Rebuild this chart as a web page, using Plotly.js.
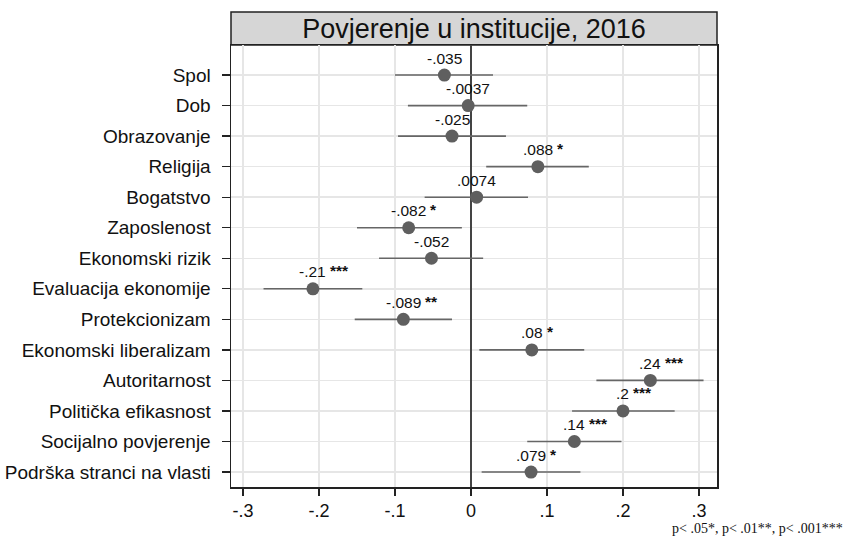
<!DOCTYPE html>
<html>
<head>
<meta charset="utf-8">
<script src="https://cdn.plot.ly/plotly-3.0.1.min.js"></script>
<style>html,body{margin:0;padding:0;background:#fff;}#chart{width:849px;height:551px;}</style>
</head>
<body>
<div id="chart"></div>
<script>
const categories = ["Spol","Dob","Obrazovanje","Religija","Bogatstvo","Zaposlenost","Ekonomski rizik","Evaluacija ekonomije","Protekcionizam","Ekonomski liberalizam","Autoritarnost","Politička efikasnost","Socijalno povjerenje","Podrška stranci na vlasti"];
const estimates = [-0.035,-0.0037,-0.025,0.088,0.0074,-0.082,-0.052,-0.208,-0.089,0.080,0.236,0.200,0.136,0.079];
const ciLow  = [-0.100,-0.083,-0.096,0.020,-0.061,-0.150,-0.121,-0.273,-0.153,0.011,0.165,0.133,0.074,0.014];
const ciHigh = [0.029,0.074,0.046,0.155,0.075,-0.012,0.016,-0.143,-0.025,0.149,0.306,0.268,0.198,0.144];
const numLabels = ["-.035","-.0037","-.025",".088",".0074","-.082","-.052","-.21","-.089",".08",".24",".2",".14",".079"];
const stars = ["","","","*","","*","","***","**","*","***","***","***","*"];
const xTickVals = [-0.3,-0.2,-0.1,0,0.1,0.2,0.3];
const xTickText = ["-.3","-.2","-.1","0",".1",".2",".3"];

const idx = categories.map((c,i)=>i);
const errPlus = estimates.map((v,i)=>ciHigh[i]-v);
const errMinus = estimates.map((v,i)=>v-ciLow[i]);

const trace = {
  type:'scatter', mode:'markers', x:estimates, y:idx,
  marker:{size:13,color:'#5f5f5f'},
  error_x:{type:'data',symmetric:false,array:errPlus,arrayminus:errMinus,color:'#666666',thickness:1.6,width:0},
  hoverinfo:'skip', showlegend:false, cliponaxis:false
};

const FONT = 'Liberation Sans, Arial, sans-serif';
const LBL = 15.5;
// approximate Arial glyph widths (em) to place stars after centered numbers
function textWidth(s, size){
  let w=0; for(const ch of s){ w += (ch==='.')?0.278:(ch==='-')?0.333:0.556; } return w*size;
}
const annotations = [];
estimates.forEach((v,i)=>{
  annotations.push({x:v,y:i,xref:'x',yref:'y',text:numLabels[i],showarrow:false,xanchor:'center',yanchor:'middle',yshift:17,font:{family:FONT,size:LBL,color:'#111'}});
  if(stars[i]){
    annotations.push({x:v,y:i,xref:'x',yref:'y',text:'<b>'+stars[i]+'</b>',showarrow:false,xanchor:'left',yanchor:'middle',yshift:18,xshift:textWidth(numLabels[i],LBL)/2+2,font:{family:FONT,size:LBL,color:'#111'}});
  }
});
annotations.push({xref:'paper',yref:'paper',x:1.263,y:-(528-487)/442,xanchor:'right',yanchor:'middle',showarrow:false,text:'p< .05*, p< .01**, p< .001***',font:{family:'Liberation Serif, Times New Roman, serif',size:14,color:'#111'}});

const layout = {
  width:849,height:551,
  margin:{l:231,r:132,t:45,b:64},
  paper_bgcolor:'#ffffff',plot_bgcolor:'#ffffff',
  title:{text:'Povjerenje u institucije, 2016',font:{family:FONT,size:27,color:'#111'},x:(231+717)/2/849,xanchor:'center',y:1-28.5/551,yanchor:'middle'},
  xaxis:{range:[-0.3158,0.3237],tickvals:xTickVals,ticktext:xTickText,showgrid:true,gridcolor:'#e6e6e6',gridwidth:1.5,
    zeroline:true,zerolinecolor:'#444',zerolinewidth:1.8,showline:true,linecolor:'#222',linewidth:1.5,mirror:true,
    ticks:'outside',ticklen:7,tickcolor:'#222',tickwidth:1.3,tickfont:{family:FONT,size:18,color:'#111'}},
  yaxis:{range:[13.49,-0.984],tickvals:idx,ticktext:categories,showgrid:true,gridcolor:'#e6e6e6',gridwidth:1.5,zeroline:false,
    showline:true,linecolor:'#222',linewidth:1.5,mirror:true,ticks:'outside',ticklen:8,tickcolor:'#222',tickwidth:1.3,ticklabelstandoff:7,
    tickfont:{family:FONT,size:19,color:'#111'}},
  shapes:[{type:'rect',xref:'paper',yref:'paper',x0:0,x1:1,y0:1,y1:1+33/442,fillcolor:'#d6d6d6',line:{color:'#222',width:1.5},layer:'below'}],
  annotations:annotations
};
Plotly.newPlot('chart',[trace],layout,{staticPlot:true,displayModeBar:false});
</script>
</body>
</html>
